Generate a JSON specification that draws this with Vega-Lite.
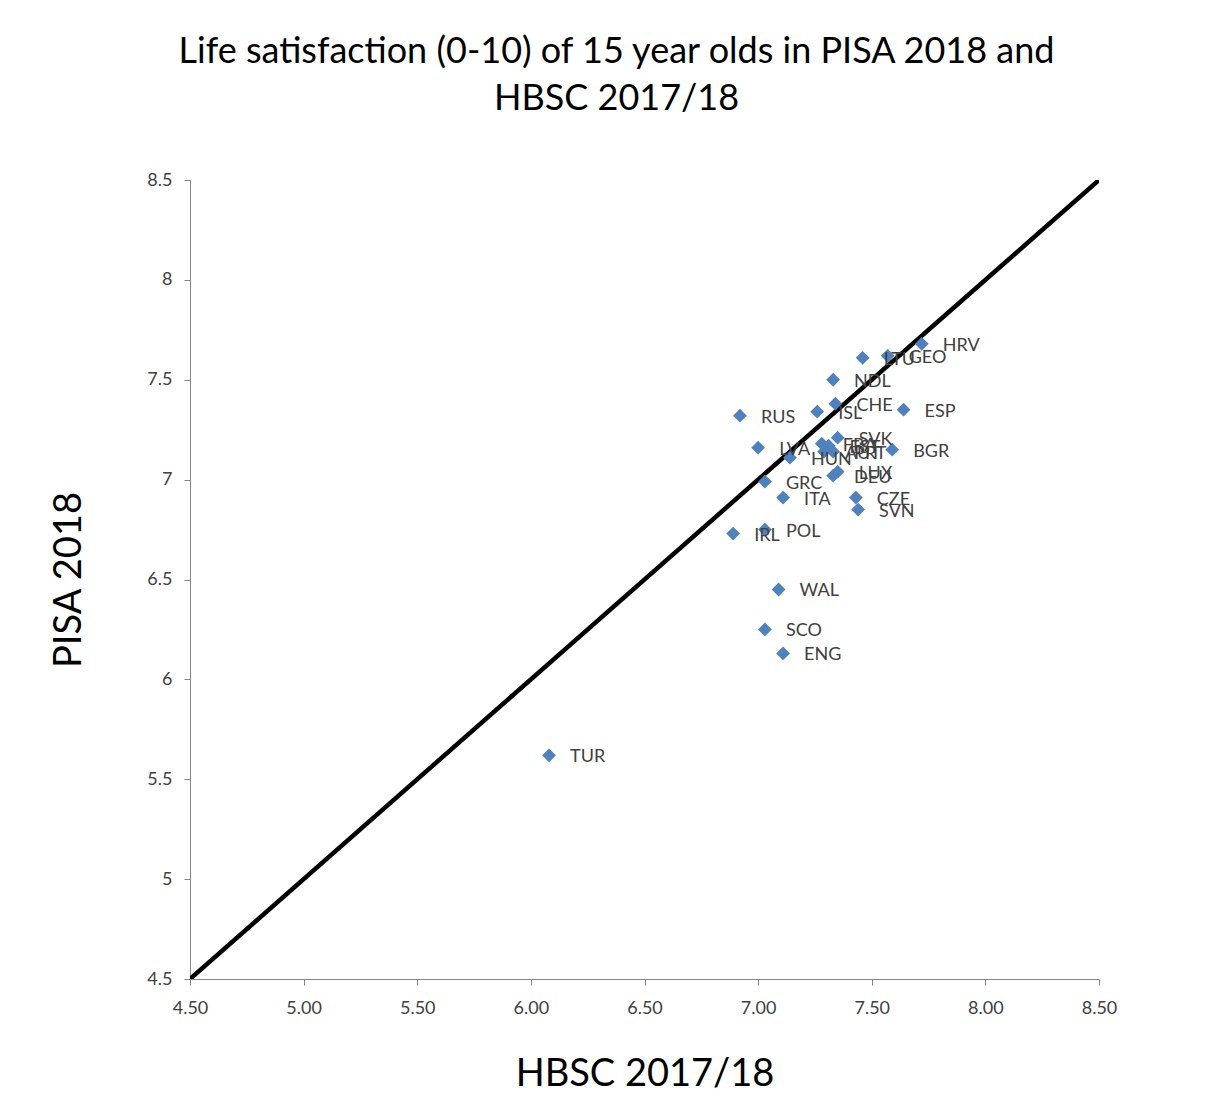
{
  "$schema": "https://vega.github.io/schema/vega-lite/v6.json",
  "width": 909,
  "height": 799,
  "autosize": "none",
  "padding": {"left": 190, "top": 180, "right": 121, "bottom": 138},
  "background": "white",
  "title": {
    "text": ["Life satisfaction (0-10) of 15 year olds in PISA 2018 and", "HBSC 2017/18"],
    "font": "Lato",
    "fontSize": 36,
    "fontWeight": "normal",
    "color": "#000000",
    "lineHeight": 47,
    "anchor": "middle",
    "frame": "group",
    "dx": -28,
    "offset": 53
  },
  "config": {
    "view": {"stroke": null},
    "axis": {
      "grid": false,
      "domainColor": "#868686",
      "tickColor": "#868686",
      "labelColor": "#404040",
      "labelFont": "Lato",
      "labelFontSize": 18,
      "labelFlush": false,
      "titleFont": "Lato",
      "titleFontSize": 38,
      "titleFontWeight": "normal",
      "titleColor": "#000000",
      "tickSize": 6
    }
  },
  "datasets": {
    "points": [
      {"country": "HRV", "hbsc": 7.72, "pisa": 7.68},
      {"country": "GEO", "hbsc": 7.57, "pisa": 7.62},
      {"country": "LTU", "hbsc": 7.46, "pisa": 7.61},
      {"country": "NDL", "hbsc": 7.33, "pisa": 7.5},
      {"country": "CHE", "hbsc": 7.34, "pisa": 7.38},
      {"country": "ISL", "hbsc": 7.26, "pisa": 7.34},
      {"country": "ESP", "hbsc": 7.64, "pisa": 7.35},
      {"country": "RUS", "hbsc": 6.92, "pisa": 7.32},
      {"country": "SVK", "hbsc": 7.35, "pisa": 7.21},
      {"country": "FRA", "hbsc": 7.28, "pisa": 7.18},
      {"country": "EST", "hbsc": 7.31, "pisa": 7.17},
      {"country": "LVA", "hbsc": 7.0, "pisa": 7.16},
      {"country": "BGR", "hbsc": 7.59, "pisa": 7.15},
      {"country": "HUN", "hbsc": 7.14, "pisa": 7.11},
      {"country": "AUT", "hbsc": 7.29, "pisa": 7.14},
      {"country": "PRT", "hbsc": 7.33, "pisa": 7.14},
      {"country": "LUX", "hbsc": 7.35, "pisa": 7.04},
      {"country": "DEU", "hbsc": 7.33, "pisa": 7.02},
      {"country": "GRC", "hbsc": 7.03, "pisa": 6.99},
      {"country": "ITA", "hbsc": 7.11, "pisa": 6.91},
      {"country": "CZE", "hbsc": 7.43, "pisa": 6.91},
      {"country": "SVN", "hbsc": 7.44, "pisa": 6.85},
      {"country": "IRL", "hbsc": 6.89, "pisa": 6.73},
      {"country": "POL", "hbsc": 7.03, "pisa": 6.75},
      {"country": "WAL", "hbsc": 7.09, "pisa": 6.45},
      {"country": "SCO", "hbsc": 7.03, "pisa": 6.25},
      {"country": "ENG", "hbsc": 7.11, "pisa": 6.13},
      {"country": "TUR", "hbsc": 6.08, "pisa": 5.62}
    ],
    "diag": [
      {"hbsc": 4.5, "pisa": 4.5},
      {"hbsc": 8.5, "pisa": 8.5}
    ]
  },
  "layer": [
    {
      "data": {"name": "diag"},
      "mark": {"type": "line", "color": "#000000", "strokeWidth": 4.5, "clip": true},
      "encoding": {
        "x": {"field": "hbsc", "type": "quantitative"},
        "y": {"field": "pisa", "type": "quantitative"}
      }
    },
    {
      "data": {"name": "points"},
      "mark": {"type": "point", "shape": "diamond", "filled": true, "color": "#4F81BD", "size": 190, "opacity": 1},
      "encoding": {
        "x": {
          "field": "hbsc", "type": "quantitative",
          "scale": {"domain": [4.5, 8.5], "nice": false, "zero": false},
          "axis": {"title": "HBSC 2017/18", "values": [4.5, 5, 5.5, 6, 6.5, 7, 7.5, 8, 8.5], "format": ".2f", "labelPadding": 14, "titlePadding": 38}
        },
        "y": {
          "field": "pisa", "type": "quantitative",
          "scale": {"domain": [4.5, 8.5], "nice": false, "zero": false},
          "axis": {"title": "PISA 2018", "values": [4.5, 5, 5.5, 6, 6.5, 7, 7.5, 8, 8.5], "format": ".1~f", "labelPadding": 12, "titlePadding": 58}
        }
      }
    },
    {
      "data": {"name": "points"},
      "mark": {"type": "text", "align": "left", "baseline": "middle", "dx": 21, "dy": 2, "font": "Lato", "fontSize": 18, "color": "#404040"},
      "encoding": {
        "x": {"field": "hbsc", "type": "quantitative"},
        "y": {"field": "pisa", "type": "quantitative"},
        "text": {"field": "country"}
      }
    }
  ]
}
